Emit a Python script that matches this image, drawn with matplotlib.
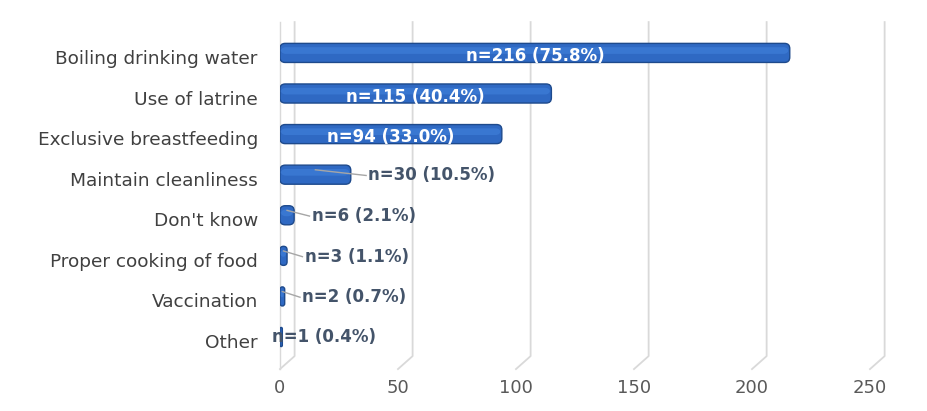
import numpy as np
import matplotlib.pyplot as plt
import matplotlib.transforms as mtransforms
from matplotlib.patches import FancyBboxPatch

# responses on hygiene practices, top to bottom
categories = ["Boiling drinking water", "Use of latrine", "Exclusive breastfeeding",
              "Maintain cleanliness", "Don't know", "Proper cooking of food",
              "Vaccination", "Other"]
counts = [216, 115, 94, 30, 6, 3, 2, 1]
percents = [75.8, 40.4, 33.0, 10.5, 2.1, 1.1, 0.7, 0.4]
xticks = [0, 50, 100, 150, 200, 250]

plt.rcParams['font.family'] = ['DejaVu Sans']

fig = plt.figure(figsize=(9.28, 4.11), dpi=100)
ax = fig.add_axes([0.3017, 0.102, 0.6358, 0.8443])

y = np.arange(len(categories))
ytop, yfloor, ybottom = -0.76, 7.47, 7.79
depth = 6.2  # back wall shift in x units

# back wall gridlines with the little floor diagonal
for t in xticks:
    ax.plot([t + depth, t + depth, t], [ytop, yfloor, ybottom],
            color='#d9d9d9', lw=1.3, zorder=1, clip_on=False)
ax.plot([0, 0], [ytop, ybottom], color='#d9d9d9', lw=1.0, zorder=1, clip_on=False)

ax.set_xlim(0, 250)
ax.set_ylim(ybottom, ytop)

# bars, then swap each rectangle for a rounded box of the same size
h = 0.47
bars = ax.barh(y, counts, height=h, color='none', lw=0)
aspect = 2.36 / 40.57  # y units per x unit on screen
for b in bars:
    x0, y0, w, hh = b.get_x(), b.get_y(), b.get_width(), b.get_height()
    r = min(2.2, w * 0.5)
    ax.add_patch(FancyBboxPatch((x0, y0), w, hh, boxstyle=f"round,pad=0,rounding_size={r}",
                                mutation_aspect=aspect, fc='#2f69c3', ec='#1e4a8c',
                                lw=1.0, zorder=3))
    ax.add_patch(FancyBboxPatch((x0 + 0.3, y0 + hh * 0.2), max(w - 0.8, 0.2), hh * 0.35,
                                boxstyle=f"round,pad=0,rounding_size={min(r, w * 0.4)}",
                                mutation_aspect=aspect, fc='#3b79d3', ec='none',
                                lw=0, zorder=4, alpha=0.9))

for i, (c, p) in enumerate(zip(counts, percents)):
    lab = f"n={c} ({p:.1f}%)"
    if c > 50:
        ax.text(c / 2, i + 0.08, lab, color='white', fontsize=12, fontweight='bold',
                ha='center', va='center', zorder=6)
    elif c > 1:
        ax.plot([c * 0.5, c + 6.5], [i - 0.12, i + 0.02], color='#a6a6a6', lw=1.0, zorder=5)
        ax.text(c + 7.5, i + 0.02, lab, color='#44546a', fontsize=12, fontweight='bold',
                ha='left', va='center', zorder=6)
    else:
        ax.text(-3.5, i, lab, color='#44546a', fontsize=12, fontweight='bold',
                ha='left', va='center', zorder=6)

ax.set_yticks(y)
ax.set_yticklabels(categories, fontsize=13.3, color='#404040')
ax.set_xticks(xticks)
ax.set_xticklabels([str(t) for t in xticks], fontsize=13, color='#595959')
ax.tick_params(length=0)
ax.tick_params(axis='y', pad=16)
ax.tick_params(axis='x', pad=7)
# category names sit a little below the bar centres
shift = mtransforms.ScaledTranslation(0, -4 / 100, fig.dpi_scale_trans)
for lbl in ax.get_yticklabels():
    lbl.set_transform(lbl.get_transform() + shift)
for s in ax.spines.values():
    s.set_visible(False)

fig.savefig('out.png', dpi=100)
